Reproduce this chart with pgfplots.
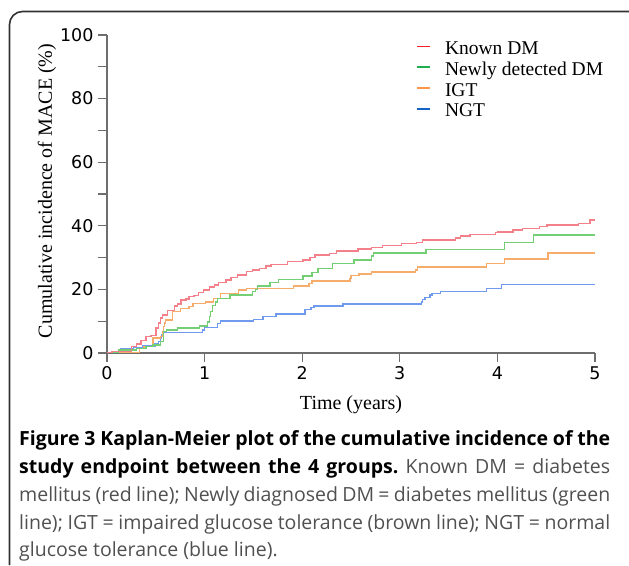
\documentclass[border=0pt]{standalone}
\usepackage{fontspec}
\setmainfont{Liberation Serif}
\newfontfamily\tickfont{DejaVu Sans}
\newfontfamily\capfont{Open Sans}
\usepackage{pgfplots}
\pgfplotsset{compat=1.18}
\definecolor{kmred}{RGB}{244,128,138}
\definecolor{kmgreen}{RGB}{116,206,116}
\definecolor{kmorange}{RGB}{246,172,106}
\definecolor{kmblue}{RGB}{112,154,238}
\definecolor{lgred}{RGB}{255,30,40}
\definecolor{lggreen}{RGB}{30,176,76}
\definecolor{lgorange}{RGB}{255,150,70}
\definecolor{lgblue}{RGB}{20,100,200}
\definecolor{axgray}{RGB}{110,110,110}
\definecolor{framegray}{RGB}{50,50,50}
\definecolor{captext}{RGB}{80,80,80}
\frenchspacing
\begin{document}
\begin{tikzpicture}
\path[use as bounding box] (0,0) rectangle (629pt,565pt);
% frame
\draw[framegray, line width=1.6pt, rounded corners=13pt] (9.5pt,0pt) -- (9.5pt,553.5pt) -- (629pt,553.5pt);
\begin{axis}[
  at={(107pt,212pt)}, anchor=south west,
  scale only axis, width=488pt, height=318pt,
  xmin=0, xmax=5, ymin=0, ymax=100,
  axis lines*=left,
  axis line style={axgray, line width=1.1pt},
  xtick={0,1,2,3,4,5}, ytick={0,20,40,60,80,100},
  minor ytick={10,30,50,70,90},
  tick align=outside,
  major tick length=9pt, minor tick length=9pt,
  every tick/.style={axgray, line width=1.1pt},
  tick label style={font=\tickfont\fontsize{17.5}{19}\selectfont, black},
  /pgf/number format/assume math mode=true,
  xticklabel style={yshift=-1pt},
  yticklabel style={xshift=-1pt},
  xlabel={Time (years)},
  ylabel={Cumulative incidence of MACE (\%)},
  label style={font=\fontsize{20}{20}\selectfont},
  xlabel style={at={(axis description cs:0.5,0)}, anchor=base, yshift=-57pt},
  ylabel style={at={(axis description cs:0,0.5)}, anchor=base, xshift=3pt, yshift=55pt},
  legend style={draw=none, fill=none, at={(306pt,314.5pt)}, anchor=north west,
    font=\fontsize{19.5}{20}\selectfont, row sep=0pt, column sep=14pt,
    nodes={inner sep=0pt, text height=14.2pt, text depth=6.5pt}},
  legend cell align=left,
  legend image code/.code={\draw[line width=1.8pt] (0pt,4.5pt) -- (13pt,4.5pt);},
]
\addlegendimage{lgred}
\addlegendentry{Known DM}
\addlegendimage{lggreen}
\addlegendentry{Newly detected DM}
\addlegendimage{lgorange}
\addlegendentry{IGT}
\addlegendimage{lgblue}
\addlegendentry{NGT}
% NGT
\addplot[kmblue, line width=1.4pt, const plot, forget plot] coordinates {
(0,0) (0.05,0.4) (0.14,1.3) (0.27,1.8) (0.37,2.2) (0.49,2.8) (0.53,3.6) (0.55,4.6)
(0.56,5.7) (0.58,6.5) (0.98,7.2) (1.00,8.1) (1.13,9.3) (1.16,10.1) (1.50,10.6)
(1.60,11.4) (1.73,12.3) (2.03,13.7) (2.09,14.4) (2.12,14.8) (2.42,15.4) (3.22,16.1)
(3.23,16.8) (3.26,17.5) (3.31,18.2) (3.33,18.7) (3.42,19.3) (3.89,20.3) (4.04,21.6)
(5.0,21.6)};
% IGT
\addplot[kmorange, line width=1.4pt, const plot, forget plot] coordinates {
(0,0) (0.33,1.5) (0.38,2.0) (0.47,4.7) (0.55,5.2) (0.57,6.7) (0.58,8.3) (0.59,9.4)
(0.60,10.4) (0.67,13.0) (0.75,14.0) (0.84,14.6) (0.88,15.6) (1.01,16.1) (1.09,17.2)
(1.16,18.7) (1.35,19.8) (1.43,20.3) (1.91,21.1) (2.07,21.9) (2.10,22.6) (2.49,23.5)
(2.50,24.3) (2.58,24.8) (2.71,25.5) (3.16,26.1) (3.18,27.0) (3.89,28.2) (4.07,29.5)
(4.52,31.5) (5.0,31.5)};
% Newly detected DM
\addplot[kmgreen, line width=1.4pt, const plot, forget plot] coordinates {
(0,0) (0.12,1.0) (0.30,1.5) (0.40,2.0) (0.47,2.5) (0.55,3.6) (0.58,6.7) (0.61,7.2)
(0.72,7.8) (0.95,8.5) (1.03,9.8) (1.05,11.5) (1.06,13.0) (1.08,15.0) (1.11,16.1)
(1.13,17.2) (1.26,18.2) (1.49,19.3) (1.52,20.0) (1.54,21.1) (1.67,22.1) (1.76,23.2)
(2.01,24.2) (2.10,25.3) (2.16,26.6) (2.31,28.2) (2.53,29.2) (2.71,30.5) (2.73,31.5)
(3.27,32.6) (4.07,34.8) (4.37,37.1) (5.0,37.1)};
% Known DM
\addplot[kmred, line width=1.4pt, const plot, forget plot] coordinates {
(0,0) (0.05,0.4) (0.25,2.0) (0.30,2.8) (0.35,4.0) (0.40,5.1) (0.45,5.5) (0.50,7.8)
(0.53,9.4) (0.55,11.0) (0.57,12.0) (0.62,13.3) (0.69,14.8) (0.72,15.4) (0.76,16.7)
(0.81,17.0) (0.84,17.7) (0.89,18.0) (0.94,19.0) (0.99,19.8) (1.05,20.7) (1.10,21.4)
(1.14,22.2) (1.22,23.0) (1.27,23.8) (1.34,24.5) (1.43,25.6) (1.49,26.1) (1.56,26.6)
(1.63,27.4) (1.68,27.9) (1.85,28.7) (2.01,29.2) (2.08,30.1) (2.13,30.8) (2.28,31.3)
(2.35,32.1) (2.57,32.7) (2.71,33.2) (2.82,33.8) (3.02,34.5) (3.17,34.8) (3.23,35.5)
(3.57,36.2) (3.62,36.8) (3.72,37.3) (3.98,37.9) (4.00,38.1) (4.16,38.7) (4.26,39.1)
(4.43,39.7) (4.51,40.3) (4.83,40.8) (4.95,41.8) (5.0,41.8)};
\end{axis}
% caption
\begin{scope}[every node/.style={anchor=base west, inner sep=0pt, font=\capfont\fontsize{19.5}{22}\selectfont}]
\node at (19pt,119.3pt) {\makebox[591pt][s]{\bfseries\color{black}Figure 3 Kaplan-Meier plot of the cumulative incidence of the}};
\node at (19pt,91pt) {\makebox[591pt][s]{{\bfseries\color{black}study endpoint between the 4 groups.} \color{captext}Known DM = diabetes}};
\node at (19pt,63.3pt) {\makebox[591pt][s]{\color{captext}mellitus (red line); Newly diagnosed DM = diabetes mellitus (green}};
\node at (19pt,35.7pt) {\makebox[591pt][s]{\color{captext}line); IGT = impaired glucose tolerance (brown line); NGT = normal}};
\node at (19pt,8.3pt) {\color{captext}glucose tolerance (blue line).};
\end{scope}
\end{tikzpicture}
\end{document}
